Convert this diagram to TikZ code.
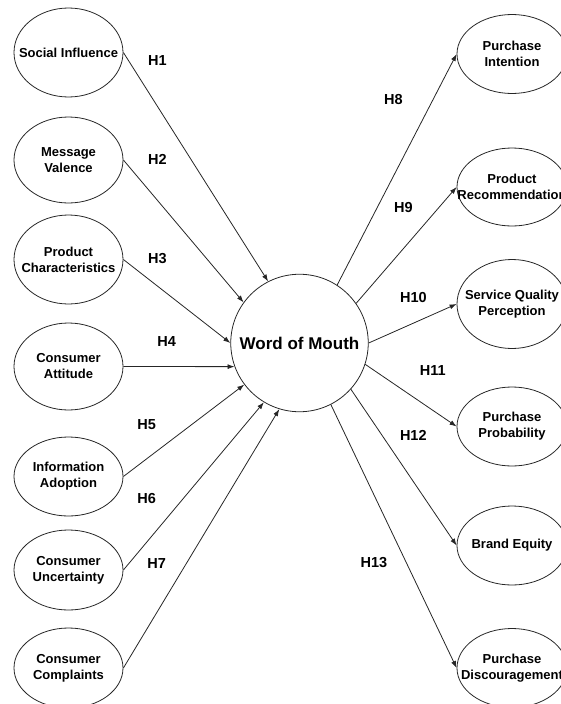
\documentclass[tikz,border=0pt]{standalone}
\usepackage{fontspec}
\setmainfont{Liberation Sans}
\usetikzlibrary{shapes.geometric,arrows.meta}

\tikzset{
  construct/.style={ellipse, draw=black!85, line width=0.8pt, inner sep=0pt,
    minimum width=109pt},
  ctext/.style={align=center, inner sep=0pt, font=\bfseries\fontsize{13}{16}\selectfont},
  core/.style={circle, draw=black!85, line width=0.8pt, inner sep=0pt,
    minimum size=137.5pt, font=\bfseries\fontsize{17}{20}\selectfont},
  link/.style={draw=black!85, line width=0.8pt, -{Latex[length=7pt,width=5pt]}},
  hyp/.style={font=\bfseries\fontsize{14.5}{17}\selectfont, inner sep=0pt}
}

\begin{document}
\begin{tikzpicture}[x=1pt,y=-1pt]
\useasboundingbox (0,0) rectangle (561,704);
\clip (0,0) rectangle (561,704);

% central construct
\node[core] (wom) at (299.5,343) {Word of Mouth};

% antecedents (fixed-size ellipses, text placed as centred labels)
\node[construct, minimum height=89pt, label={[ctext]center:Social Influence}] (si) at (68.5,52.5) {};
\node[construct, minimum height=86pt, label={[ctext]center:Message\\Valence}] (mv) at (68.5,160) {};
\node[construct, minimum height=89pt, label={[ctext]center:Product\\Characteristics}] (pc) at (68.5,259.5) {};
\node[construct, minimum height=87pt, label={[ctext]center:Consumer\\Attitude}] (ca) at (68.5,366.5) {};
\node[construct, minimum height=79pt, label={[ctext]center:Information\\Adoption}] (ia) at (68.5,476.5) {};
\node[construct, minimum height=80pt, label={[ctext]center:Consumer\\Uncertainty}] (cu) at (68.5,570) {};
\node[construct, minimum height=80pt, label={[ctext]center:Consumer\\Complaints}] (cc) at (68.5,668) {};

% outcomes
\node[construct, minimum width=110pt, minimum height=79pt, label={[ctext]center:Purchase\\Intention}] (pi) at (512,54) {};
\node[construct, minimum width=110pt, minimum height=78pt, label={[ctext]center:Product\\Recommendation}] (pr) at (512,187) {};
\node[construct, minimum width=110pt, minimum height=89pt, label={[ctext]center:Service Quality\\Perception}] (sq) at (512,304) {};
\node[construct, minimum width=110pt, minimum height=79pt, label={[ctext]center:Purchase\\Probability}] (pp) at (512,426.5) {};
\node[construct, minimum width=110pt, minimum height=79pt, label={[ctext]center:Brand Equity}] (be) at (512,545.5) {};
\node[construct, minimum width=110pt, minimum height=79pt, label={[ctext]center:Purchase\\Discouragement}] (pd) at (512,668) {};

% incoming paths
\draw[link] (si.east) -- (wom.117);
\draw[link] (mv.east) -- (wom.144);
\draw[link] (pc.east) -- (wom.180);
\draw[link] (ca.east) -- (wom.200);
\draw[link] (ia.east) -- (wom.217);
\draw[link] (cu.east) -- (wom.239);
\draw[link] (cc.east) -- (wom.253);

% outgoing paths
\draw[link] (wom.57) -- (pi.west);
\draw[link] (wom.35) -- (pr.west);
\draw[link] (wom.0) -- (sq.west);
\draw[link] (wom.-18) -- (pp.west);
\draw[link] (wom.-42) -- (be.west);
\draw[link] (wom.-63) -- (pd.west);

% hypothesis labels
\node[hyp] (h1) at (157.3,60.7) {H1};
\node[hyp] (h2) at (157.3,159) {H2};
\node[hyp] (h3) at (157.3,258.3) {H3};
\node[hyp] (h4) at (166.7,341.7) {H4};
\node[hyp] (h5) at (146.7,425) {H5};
\node[hyp] (h6) at (146.7,499) {H6};
\node[hyp] (h7) at (156.7,563.3) {H7};
\node[hyp] (h8) at (393.3,100) {H8};
\node[hyp] (h9) at (403.3,207.7) {H9};
\node[hyp] (h10) at (413.5,297.5) {H10};
\node[hyp] (h11) at (432.7,370.7) {H11};
\node[hyp] (h12) at (413.3,435) {H12};
\node[hyp] (h13) at (374,563) {H13};
\end{tikzpicture}
\end{document}
